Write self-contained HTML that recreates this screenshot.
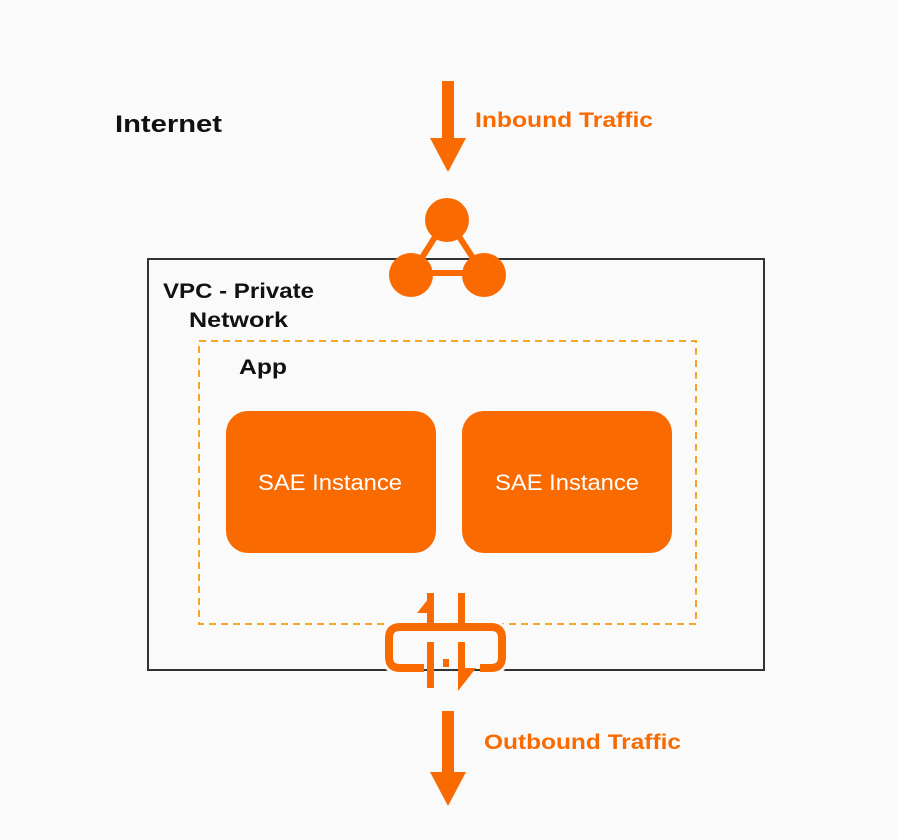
<!DOCTYPE html>
<html><head><style>
body{margin:0;background:#fafafa;}
svg{display:block;font-family:"Liberation Sans",sans-serif;}
</style></head><body>
<svg width="898" height="840" viewBox="0 0 898 840">
<rect width="898" height="840" fill="#fafafa"/>
<text x="115" y="132" font-size="24" font-weight="bold" fill="#111" textLength="107" lengthAdjust="spacingAndGlyphs">Internet</text>
<rect x="442" y="81" width="12" height="58" fill="#f96a00"/>
<polygon points="430,138 466,138 448,172" fill="#f96a00"/>
<text x="475" y="127" font-size="21" font-weight="bold" fill="#f96a00" textLength="178" lengthAdjust="spacingAndGlyphs">Inbound Traffic</text>
<rect x="148" y="259" width="616" height="411" fill="none" stroke="#333" stroke-width="2"/>
<text x="163" y="298" font-size="21" font-weight="bold" fill="#111" textLength="151" lengthAdjust="spacingAndGlyphs">VPC - Private</text>
<text x="189" y="327" font-size="21" font-weight="bold" fill="#111" textLength="99" lengthAdjust="spacingAndGlyphs">Network</text>
<rect x="199" y="341" width="497" height="283" fill="none" stroke="#f5a623" stroke-width="2" stroke-dasharray="7,5"/>
<text x="239" y="374" font-size="21" font-weight="bold" fill="#111" textLength="48" lengthAdjust="spacingAndGlyphs">App</text>
<rect x="226" y="411" width="210" height="142" rx="22" fill="#f96a00"/>
<rect x="462" y="411" width="210" height="142" rx="22" fill="#f96a00"/>
<text x="258" y="490" font-size="22" fill="#fff" textLength="144" lengthAdjust="spacingAndGlyphs">SAE Instance</text>
<text x="495" y="490" font-size="22" fill="#fff" textLength="144" lengthAdjust="spacingAndGlyphs">SAE Instance</text>
<g stroke="#f96a00" stroke-width="6"><line x1="447" y1="218" x2="411" y2="275"/><line x1="447" y1="218" x2="484" y2="275"/><line x1="411" y1="273" x2="484" y2="273"/></g>
<circle cx="447" cy="220" r="22" fill="#f96a00"/>
<circle cx="411" cy="275" r="22" fill="#f96a00"/>
<circle cx="484" cy="275" r="22" fill="#f96a00"/>
<path d="M424 668 H400 Q389 668 389 657 V638 Q389 627 400 627 H491 Q502 627 502 638 V657 Q502 668 491 668 H480" fill="none" stroke="#fafafa" stroke-width="14"/>
<path d="M424 668 H400 Q389 668 389 657 V638 Q389 627 400 627 H491 Q502 627 502 638 V657 Q502 668 491 668 H480" fill="none" stroke="#f96a00" stroke-width="8"/>
<rect x="422" y="632" width="16" height="9" fill="#fafafa"/>
<rect x="453" y="632" width="16" height="9" fill="#fafafa"/>
<polygon points="417,613 433,593 433,613" fill="#f96a00"/>
<rect x="427" y="593" width="7" height="35" fill="#f96a00"/>
<rect x="427" y="642" width="7" height="46" fill="#f96a00"/>
<rect x="443" y="659" width="6" height="8" fill="#f96a00"/>
<rect x="458" y="593" width="7" height="38" fill="#f96a00"/>
<rect x="458" y="642" width="7" height="28" fill="#f96a00"/>
<polygon points="458,668 476,668 458,691" fill="#f96a00"/>
<rect x="442" y="711" width="12" height="62" fill="#f96a00"/>
<polygon points="430,772 466,772 448,806" fill="#f96a00"/>
<text x="484" y="749" font-size="21" font-weight="bold" fill="#f96a00" textLength="197" lengthAdjust="spacingAndGlyphs">Outbound Traffic</text>
</svg>
</body></html>
